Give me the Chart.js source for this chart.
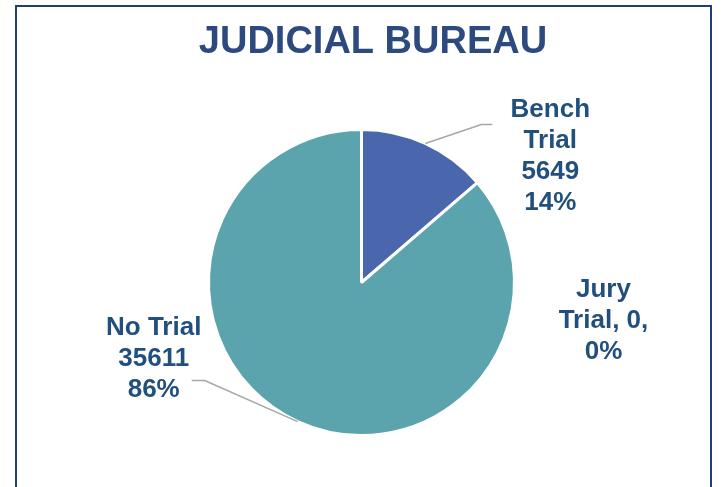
<!DOCTYPE html>
<html>
<head>
<meta charset="utf-8">
<script src="https://cdn.jsdelivr.net/npm/chart.js@4.4.1/dist/chart.umd.min.js"></script>
<style>
  html, body { margin: 0; padding: 0; background: #fff; }
  #wrap { position: relative; width: 724px; height: 487px; overflow: hidden; }
  #frame {
    position: absolute; left: 15px; top: 5px; width: 697px; height: 600px;
    border: 2px solid #1d3f76; box-sizing: border-box;
  }
  #pie { position: absolute; left: 0; top: 0; }
</style>
</head>
<body>
<div id="wrap">
  <div id="frame"></div>
  <canvas id="pie" width="724" height="487"></canvas>
</div>
<script>
const chartTitle = 'JUDICIAL BUREAU';
const categories = ['Bench Trial', 'Jury Trial', 'No Trial'];
const counts = [5649, 0, 35611];
const sliceColors = ['#4a66ad', '#4f7fbf', '#5ba3ad'];
// label text lines, as shown on the chart
const labelLines = [
  ['Bench', 'Trial', '5649', '14%'],
  ['Jury', 'Trial, 0,', '0%'],
  ['No Trial', '35611', '86%']
];

// where each label sits relative to its slice's edge point (dx, dy of text centre)
// and the leader line bend (null = no leader)
const labelPlace = [
  { text: [125, 13], elbow: [56, -19], tail: 11 },
  { text: [126, 138], elbow: null },
  { text: [-144, -63], elbow: [-93, -41], tail: -13 }
];

const labelPlugin = {
  id: 'sliceLabels',
  afterDatasetsDraw(chart) {
    const ctx = chart.ctx;
    const arcs = chart.getDatasetMeta(0).data;
    ctx.save();
    // title, sits a bit right of the pie centre like the original
    ctx.fillStyle = '#2c4a7e';
    ctx.font = 'bold 38px "Liberation Sans", Arial, sans-serif';
    ctx.textAlign = 'center';
    ctx.textBaseline = 'middle';
    ctx.fillText(chartTitle, 373, 43);

    arcs.forEach((arc, i) => {
      const p = arc.getProps(['x', 'y', 'startAngle', 'endAngle', 'outerRadius'], true);
      const mid = (p.startAngle + p.endAngle) / 2;
      const ax = p.x + Math.cos(mid) * p.outerRadius;
      const ay = p.y + Math.sin(mid) * p.outerRadius;
      const place = labelPlace[i];
      if (place.elbow) {
        const ex = ax + place.elbow[0], ey = ay + place.elbow[1];
        ctx.strokeStyle = '#a6a6a6';
        ctx.lineWidth = 1.5;
        ctx.beginPath();
        ctx.moveTo(ax, ay);
        ctx.lineTo(ex, ey);
        ctx.lineTo(ex + place.tail, ey);
        ctx.stroke();
      }
      const lines = labelLines[i];
      const lh = 31;
      const cx = ax + place.text[0];
      const cy = ay + place.text[1];
      ctx.fillStyle = '#22507e';
      ctx.font = 'bold 26px "Liberation Sans", Arial, sans-serif';
      lines.forEach((t, k) => {
        ctx.fillText(t, cx, cy + (k - (lines.length - 1) / 2) * lh);
      });
    });
    ctx.restore();
  }
};

new Chart(document.getElementById('pie'), {
  type: 'pie',
  data: {
    labels: categories,
    datasets: [{
      data: counts,
      backgroundColor: sliceColors,
      borderColor: '#ffffff',
      borderWidth: 3
    }]
  },
  options: {
    responsive: false,
    animation: false,
    layout: { padding: { top: 128, bottom: 50, left: 0, right: 1 } },
    plugins: {
      legend: { display: false },
      tooltip: { enabled: false },
      title: { display: false }
    }
  },
  plugins: [labelPlugin]
});
</script>
</body>
</html>
